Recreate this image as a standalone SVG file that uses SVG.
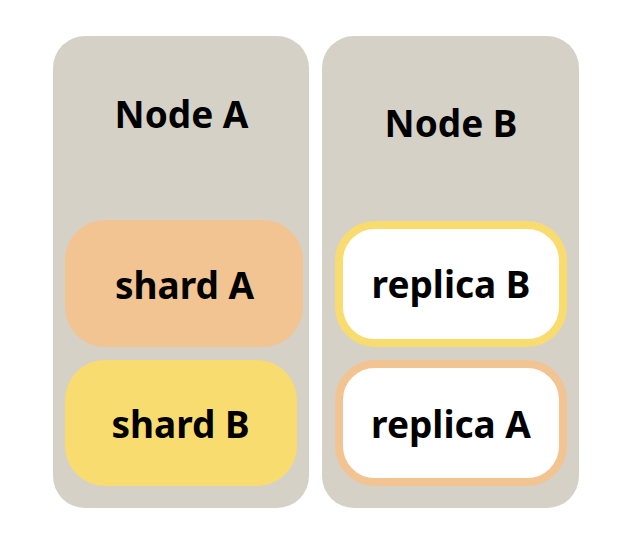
<svg xmlns="http://www.w3.org/2000/svg" width="630" height="538" viewBox="0 0 630 538">
  <style>
    .panel { fill: #d5d1c7; }
    .lbl { font-family: "Noto Sans", "Open Sans", sans-serif; font-weight: 700; font-size: 37px; fill: #000; text-anchor: middle; }
    .orange { fill: #f2c491; }
    .yellow { fill: #f9dc6f; }
    .ring { fill: #ffffff; stroke-width: 8; }
  </style>
  <rect width="630" height="538" fill="#ffffff"/>
  <g id="nodeA">
    <rect class="panel" x="53" y="36" width="256" height="472" rx="32"/>
    <text class="lbl" x="181.5" y="128">Node A</text>
  </g>
  <g id="nodeB">
    <rect class="panel" x="322" y="36" width="257" height="472" rx="32"/>
    <text class="lbl" x="451" y="137">Node B</text>
  </g>
  <g id="shardA">
    <rect class="orange" x="65" y="220" width="238" height="127" rx="40"/>
    <text class="lbl" x="184.5" y="299">shard A</text>
  </g>
  <g id="shardB">
    <rect class="yellow" x="65" y="360" width="232" height="126" rx="40"/>
    <text class="lbl" x="180.5" y="438">shard B</text>
  </g>
  <g id="replicaB">
    <rect class="ring" x="339" y="225" width="224" height="118" rx="36" stroke="#f9dc6f"/>
    <text class="lbl" x="451" y="298">replica B</text>
  </g>
  <g id="replicaA">
    <rect class="ring" x="339" y="364" width="224" height="118" rx="36" stroke="#f2c491"/>
    <text class="lbl" x="451" y="438">replica A</text>
  </g>
  <g id="connectors"/>
</svg>
